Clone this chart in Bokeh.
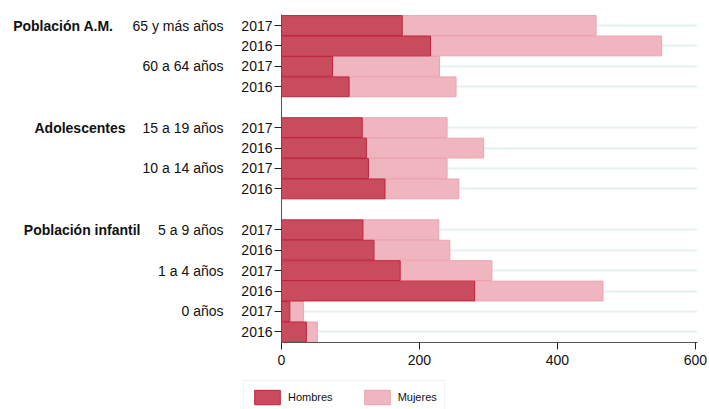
from bokeh.plotting import figure
from bokeh.layouts import row, column
from bokeh.models import Range1d, FixedTicker, Legend, LegendItem
from bokeh.core.properties import value
from bokeh.embed import file_html
from bokeh.resources import INLINE

# ---- data ----
groups = ["Población A.M.", "Adolescentes", "Población infantil"]
ages = [["65 y más años", "60 a 64 años"],
        ["15 a 19 años", "10 a 14 años"],
        ["5 a 9 años", "1 a 4 años", "0 años"]]
years = ["2017", "2016"]
hombres = [175, 216, 74, 98, 117, 123, 126, 150, 118, 134, 172, 280, 12, 36]
mujeres = [281, 335, 155, 155, 123, 170, 114, 107, 110, 110, 133, 186, 20, 16]
x_ticks = [0, 200, 400, 600]
series_names = ["Hombres", "Mujeres"]

# ---- row layout ----
pos, year_lab, age_rows, group_rows = [], [], [], []
r = 0
for g, age_list in zip(groups, ages):
    group_rows.append((g, r))
    for a in age_list:
        age_rows.append((a, r))
        for yv in years:
            pos.append(r)
            year_lab.append(yv)
            r += 1
    r += 1

totals = [h + m for h, m in zip(hombres, mujeres)]

FONT = "Liberation Sans"
TXT = "#111111"
DARK_FILL, DARK_LINE = "#c84c5e", "#c0243c"
LIGHT_FILL, LIGHT_LINE = "#f0b6c0", "#eca2b0"

TOP_H = 375
LEFT_W = 230
TOTAL_W = 709
y_range = Range1d(15.52, -0.54)

# ---- left label panel ----
pl = figure(width=LEFT_W, height=TOP_H, output_backend="svg", toolbar_location=None,
            x_range=Range1d(0, LEFT_W), y_range=y_range,
            x_axis_location=None, y_axis_location=None,
            min_border_left=0, min_border_right=0, min_border_top=14,
            min_border_bottom=33)
pl.outline_line_color = None
pl.grid.visible = False
pl.text(x=[113, 125, 140], y=[rr for _, rr in group_rows], text=[g for g, _ in group_rows],
        text_align="right", text_baseline="middle", text_font=value(FONT),
        text_font_size="14px", text_font_style="bold", text_color=TXT)
pl.text(x=[223] * len(age_rows), y=[rr for _, rr in age_rows], text=[a for a, _ in age_rows],
        text_align="right", text_baseline="middle", text_font=value(FONT),
        text_font_size="14px", text_color=TXT)

# ---- main chart ----
p = figure(width=TOTAL_W - LEFT_W, height=TOP_H, output_backend="svg", toolbar_location=None,
           x_range=Range1d(0, 603), y_range=y_range,
           min_border_left=281 - LEFT_W, min_border_right=12, min_border_top=14,
           min_border_bottom=33)
p.outline_line_color = None

r_m = p.hbar(y=pos, left=hombres, right=totals, height=0.97,
             fill_color=LIGHT_FILL, line_color=LIGHT_LINE, line_width=1)
r_h = p.hbar(y=pos, left=0, right=hombres, height=0.97,
             fill_color=DARK_FILL, line_color=DARK_LINE, line_width=1)

p.xgrid.grid_line_color = None
p.ygrid.ticker = FixedTicker(ticks=pos)
p.ygrid.grid_line_color = "#e6eff1"
p.ygrid.grid_line_width = 2
p.ygrid.level = "underlay"

xa = p.xaxis[0]
xa.ticker = FixedTicker(ticks=x_ticks)
xa.axis_line_color = "#555555"
xa.major_tick_line_color = "#222222"
xa.major_tick_out = 7
xa.major_tick_in = 0
xa.minor_tick_line_color = None
xa.major_label_text_font = FONT
xa.major_label_text_font_size = "14px"
xa.major_label_text_color = TXT
xa.major_label_standoff = 5

ya = p.yaxis[0]
ya.ticker = FixedTicker(ticks=pos)
ya.major_label_overrides = {pp: yl for pp, yl in zip(pos, year_lab)}
ya.axis_line_color = "#555555"
ya.major_tick_line_color = "#222222"
ya.major_tick_out = 7
ya.major_tick_in = 0
ya.minor_tick_line_color = None
ya.major_label_text_font = FONT
ya.major_label_text_font_size = "14px"
ya.major_label_text_color = TXT
ya.major_label_standoff = 2

# ---- legend panel ----
LEG_H = 409 - TOP_H
pg = figure(width=TOTAL_W, height=LEG_H, output_backend="svg", toolbar_location=None,
            x_range=Range1d(0, TOTAL_W), y_range=Range1d(0, LEG_H),
            x_axis_location=None, y_axis_location=None, min_border=0)
pg.outline_line_color = None
pg.grid.visible = False
# legend-only swatch renderers, placed outside the visible range
lh = pg.hbar(y=[-1000], left=[0], right=[1], height=1,
             fill_color=DARK_FILL, line_color=DARK_LINE, line_width=1)
lm = pg.hbar(y=[-1000], left=[0], right=[1], height=1,
             fill_color=LIGHT_FILL, line_color=LIGHT_LINE, line_width=1)
legend = Legend(items=[LegendItem(label=series_names[0], renderers=[lh], index=0),
                       LegendItem(label=series_names[1], renderers=[lm], index=0)],
                orientation="horizontal", location=(243, -5),
                glyph_width=32, glyph_height=18, label_height=18,
                label_standoff=5, spacing=28, padding=7, margin=0,
                label_text_font=FONT, label_text_font_size="11px",
                label_text_color=TXT,
                border_line_color="#e2eaec", border_line_width=1,
                background_fill_color="white")
pg.add_layout(legend, "center")

layout = column(row(pl, p, spacing=0), pg, spacing=0)
open("out.html", "w").write(file_html(layout, INLINE))
